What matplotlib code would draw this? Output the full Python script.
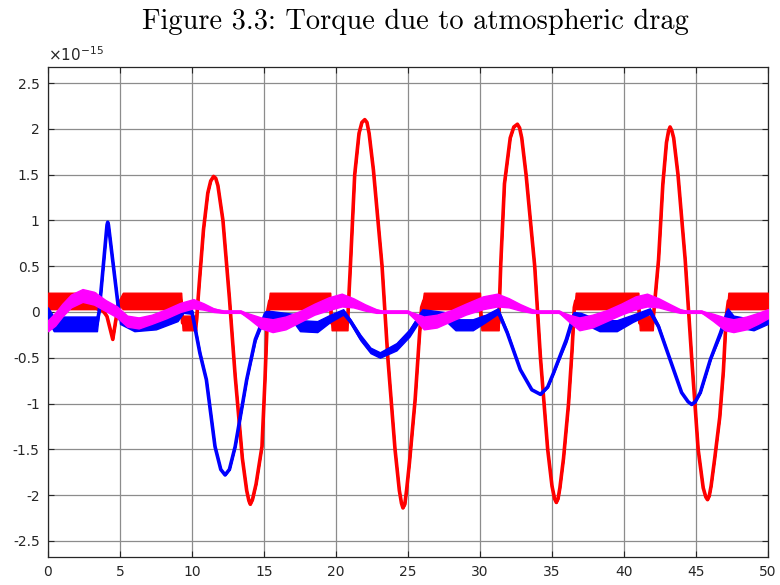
import matplotlib
matplotlib.use('Agg')
import matplotlib.pyplot as plt
import numpy as np

plt.rcParams['axes.unicode_minus'] = False

# Torque components, in units of 1e-15
# red component: x, centre value, half-width of the noise band
red_x = [0.0, 3.3, 3.7, 4.1, 4.5, 4.9, 5.2, 9.25, 9.35, 10.3,
         10.5, 10.8, 11.1, 11.3, 11.5, 11.65, 11.8, 12.15, 12.6, 13.0, 13.5, 13.8,
         13.95, 14.05, 14.2, 14.45, 14.86, 15.07, 15.25, 15.4,
         19.6, 19.7, 20.8,
         21.0, 21.3, 21.6, 21.8, 22.0, 22.15, 22.3, 22.6, 23.2, 23.6, 24.1, 24.4,
         24.55, 24.65, 24.78, 24.9, 25.1, 25.5, 25.8, 25.95, 26.1,
         30.0, 30.1, 31.3,
         31.45, 31.7, 32.1, 32.35, 32.6, 32.75, 32.9, 33.2, 33.8, 34.2, 34.7, 35.0,
         35.18, 35.3, 35.42, 35.55, 35.8, 36.15, 36.4, 36.55, 36.65,
         41.0, 41.1, 42.0,
         42.1, 42.4, 42.7, 42.95, 43.1, 43.2, 43.32, 43.45, 43.75, 44.25, 44.7, 45.15,
         45.5, 45.68, 45.8, 45.92, 46.05, 46.3, 46.65, 46.9, 47.1, 47.25,
         50.0]
red_y = [0.12, 0.12, 0.05, -0.05, -0.3, 0.1, 0.12, 0.12, -0.12, -0.12,
         0.3, 0.9, 1.3, 1.43, 1.48, 1.46, 1.38, 1.0, 0.15, -0.7, -1.6, -1.95,
         -2.06, -2.1, -2.05, -1.88, -1.47, -0.74, 0.0, 0.12,
         0.12, -0.12, -0.12,
         0.5, 1.5, 1.95, 2.07, 2.1, 2.07, 1.95, 1.55, 0.5, -0.5, -1.5, -1.95,
         -2.09, -2.14, -2.1, -1.95, -1.65, -0.95, -0.25, 0.05, 0.12,
         0.12, -0.12, -0.12,
         0.55, 1.4, 1.9, 2.02, 2.05, 2.01, 1.9, 1.5, 0.5, -0.5, -1.5, -1.9,
         -2.04, -2.08, -2.04, -1.92, -1.6, -1.0, -0.4, 0.05, 0.12,
         0.12, -0.12, -0.12,
         0.05, 0.57, 1.4, 1.85, 1.98, 2.02, 1.98, 1.9, 1.5, 0.57, -0.5, -1.5,
         -1.92, -2.02, -2.05, -2.01, -1.9, -1.6, -1.15, -0.65, -0.05, 0.12,
         0.12]
red_s = [0.09, 0.09, 0.04, 0.0, 0.0, 0.02, 0.09, 0.09, 0.08, 0.08,
         0.0, 0.0, 0.0, 0.0, 0.0, 0.0, 0.0, 0.0, 0.0, 0.0, 0.0, 0.0,
         0.0, 0.0, 0.0, 0.0, 0.0, 0.0, 0.0, 0.09,
         0.09, 0.08, 0.08,
         0.0, 0.0, 0.0, 0.0, 0.0, 0.0, 0.0, 0.0, 0.0, 0.0, 0.0, 0.0,
         0.0, 0.0, 0.0, 0.0, 0.0, 0.0, 0.0, 0.0, 0.09,
         0.09, 0.08, 0.08,
         0.0, 0.0, 0.0, 0.0, 0.0, 0.0, 0.0, 0.0, 0.0, 0.0, 0.0, 0.0,
         0.0, 0.0, 0.0, 0.0, 0.0, 0.0, 0.0, 0.0, 0.09,
         0.09, 0.08, 0.08,
         0.0, 0.0, 0.0, 0.0, 0.0, 0.0, 0.0, 0.0, 0.0, 0.0, 0.0, 0.0,
         0.0, 0.0, 0.0, 0.0, 0.0, 0.0, 0.0, 0.0, 0.0, 0.09,
         0.09]

# blue component
blue_x = [0.0, 0.4, 3.4, 3.55, 4.1, 4.15, 4.2, 4.85, 5.0, 6.0, 7.5, 9.0, 9.4, 10.0,
          10.55, 11.0, 11.6, 12.0, 12.3, 12.6, 13.0, 13.8, 14.4, 15.1, 15.5, 17.0, 17.5,
          18.7, 19.6, 20.5, 21.0, 21.7, 22.4, 23.05, 24.2, 25.1, 26.0, 27.5,
          28.3, 29.5, 30.4, 31.25, 31.9, 32.8, 33.6, 34.2, 34.7, 35.1, 36.0,
          36.5, 37.0, 38.3, 39.5, 40.6, 41.8, 42.4, 43.2, 44.0, 44.45, 44.7, 44.95, 45.3,
          46.0, 46.7, 47.2, 47.6, 49.0, 50.0]
blue_y = [-0.02, -0.13, -0.13, 0.0, 0.95, 0.98, 0.95, 0.1, -0.08, -0.14, -0.12, -0.05, 0.03, 0.0,
          -0.45, -0.74, -1.47, -1.72, -1.78, -1.72, -1.47, -0.74, -0.3, -0.02, -0.03, -0.06, -0.15,
          -0.16, -0.07, 0.0, -0.1, -0.28, -0.42, -0.47, -0.38, -0.23, -0.01, -0.04,
          -0.14, -0.14, -0.07, 0.01, -0.23, -0.63, -0.85, -0.9, -0.82, -0.67, -0.3,
          -0.04, -0.06, -0.15, -0.15, -0.07, 0.01, -0.16, -0.52, -0.88, -0.98, -1.01, -0.98, -0.88,
          -0.52, -0.23, 0.0, -0.1, -0.14, -0.08]
blue_s = [0.07, 0.08, 0.08, 0.0, 0.0, 0.0, 0.0, 0.0, 0.05, 0.07, 0.07, 0.05, 0.04, 0.02,
          0.02, 0.0, 0.0, 0.0, 0.0, 0.0, 0.0, 0.0, 0.02, 0.03, 0.04, 0.04, 0.06,
          0.06, 0.04, 0.03, 0.02, 0.03, 0.03, 0.03, 0.04, 0.04, 0.04, 0.04,
          0.06, 0.06, 0.04, 0.03, 0.02, 0.0, 0.0, 0.0, 0.0, 0.0, 0.03,
          0.04, 0.05, 0.06, 0.06, 0.04, 0.03, 0.02, 0.0, 0.0, 0.0, 0.0, 0.0, 0.0,
          0.0, 0.03, 0.04, 0.06, 0.06, 0.05]

# magenta component
mag_x = [0.0, 0.5, 1.0, 1.6, 2.4, 3.2, 4.0, 4.8, 5.5, 6.3, 7.2, 8.2, 9.2,
         10.1, 10.8, 11.5, 12.2, 13.4, 14.0, 14.8, 15.6, 16.5, 17.5, 18.5,
         19.5, 20.4, 21.2, 22.0, 22.8, 23.2, 25.0, 25.5, 26.1, 27.0, 28.0,
         29.0, 30.2, 31.2, 32.0, 32.8, 33.6, 34.0, 35.5, 36.2, 36.9, 37.8,
         38.8, 39.8, 40.8, 41.6, 42.4, 43.2, 43.9, 44.3, 45.4, 46.2, 47.0,
         47.6, 48.5, 49.3, 50.0]
mag_y = [-0.15, -0.08, 0.02, 0.12, 0.18, 0.15, 0.07, 0.0, -0.1, -0.12, -0.08, -0.02, 0.05,
         0.09, 0.06, 0.02, 0.0, 0.0, -0.05, -0.12, -0.15, -0.12, -0.05, 0.03,
         0.09, 0.13, 0.1, 0.05, 0.01, 0.0, 0.0, -0.05, -0.12, -0.1, -0.04,
         0.03, 0.1, 0.13, 0.1, 0.05, 0.01, 0.0, 0.0, -0.07, -0.13, -0.1,
         -0.04, 0.03, 0.1, 0.13, 0.1, 0.05, 0.01, 0.0, 0.0, -0.06, -0.13,
         -0.15, -0.12, -0.07, -0.02]
mag_s = [0.06, 0.07, 0.07, 0.07, 0.07, 0.07, 0.06, 0.06, 0.06, 0.06, 0.05, 0.05, 0.05,
         0.05, 0.035, 0.02, 0.01, 0.01, 0.03, 0.06, 0.07, 0.07, 0.06, 0.06,
         0.07, 0.07, 0.05, 0.035, 0.02, 0.01, 0.01, 0.035, 0.07, 0.07, 0.06,
         0.06, 0.07, 0.07, 0.05, 0.035, 0.02, 0.01, 0.01, 0.04, 0.07, 0.07,
         0.06, 0.06, 0.07, 0.07, 0.05, 0.035, 0.02, 0.01, 0.01, 0.04, 0.07,
         0.07, 0.07, 0.06, 0.05]

x_ticks = [0, 5, 10, 15, 20, 25, 30, 35, 40, 45, 50]
y_ticks = [-2.5, -2, -1.5, -1, -0.5, 0, 0.5, 1, 1.5, 2, 2.5]

fig = plt.figure(figsize=(7.8, 5.85), dpi=100)
ax = fig.add_axes([0.0615, 0.048, 0.9231, 0.8375])

series = [(red_x, red_y, red_s, '#ff0000'),
          (blue_x, blue_y, blue_s, '#0000ff'),
          (mag_x, mag_y, mag_s, '#ff00ff')]
for i, (sx, sy, ss, c) in enumerate(series):
    sx = np.array(sx)
    sy = np.array(sy)
    ss = np.array(ss)
    ax.fill_between(sx, sy - ss, sy + ss, color=c, lw=1.0, zorder=3 + i)
    ax.plot(sx, sy, color=c, lw=2.6, zorder=3 + i,
            solid_joinstyle='round', solid_capstyle='round')

ax.set_xlim(0, 50)
ax.set_ylim(-2.675, 2.675)
ax.set_xticks(x_ticks)
ax.set_yticks(y_ticks)
ax.set_yticklabels(['%g' % v for v in y_ticks])
ax.grid(True, color='#8c8c8c', lw=0.9, zorder=0)
ax.tick_params(direction='in', length=4, top=True, right=True,
               labelsize=10, colors='#262626', pad=6)
for sp in ax.spines.values():
    sp.set_color('#262626')
    sp.set_linewidth(0.9)

ax.text(0.0, 1.006, r'$\times\mathregular{10^{-15}}$', transform=ax.transAxes,
        fontsize=11, color='#262626', ha='left', va='bottom')

fig.text(0.532, 0.962, 'Figure 3.3: Torque due to atmospheric drag',
         fontfamily='cmr10', fontsize=20.5, ha='center', va='center')

fig.savefig('out.png', dpi=100)
